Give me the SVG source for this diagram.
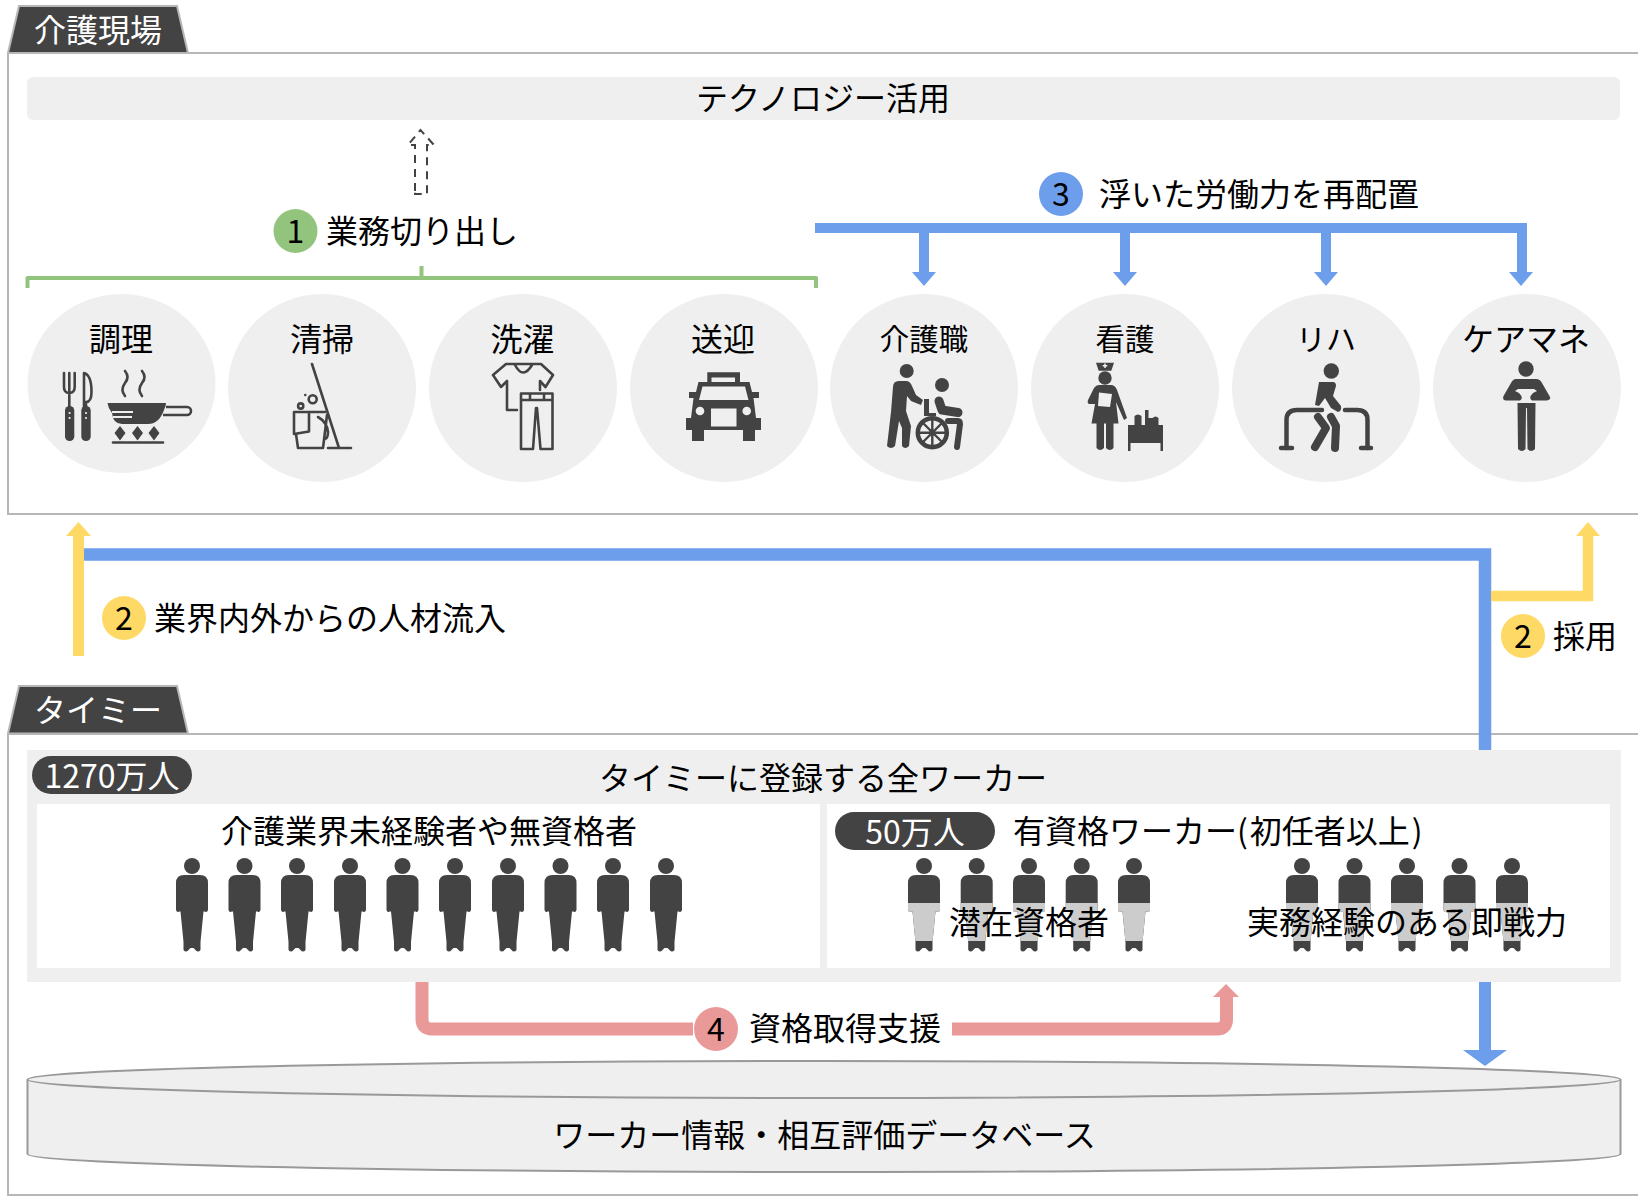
<svg xmlns="http://www.w3.org/2000/svg" xmlns:xlink="http://www.w3.org/1999/xlink" width="1638" height="1196" viewBox="0 0 1638 1196">
<style>
text{font-family:"Noto Sans CJK JP","Noto Sans",sans-serif;font-size:32px;fill:#000}
.m{text-anchor:middle}
.w{fill:#fff}
.panel{fill:#fff;stroke:#b7b7b7;stroke-width:2}
.tab{fill:#434343;stroke:#b7b7b7;stroke-width:2}
.g{fill:#efefef}
.d{fill:#434343}
.pill{fill:#434343}
.ln{fill:none;stroke:#434343;stroke-width:2.6;stroke-linecap:round;stroke-linejoin:round}
.th{fill:none;stroke:#434343;stroke-width:8;stroke-linecap:round;stroke-linejoin:round}
.tg{fill:none;stroke:#434343;stroke-width:5.5;stroke-linecap:round;stroke-linejoin:round}
.blue{fill:none;stroke:#6d9eeb}
.yel{fill:none;stroke:#ffd966}
.pink{fill:none;stroke:#ea9999;stroke-width:13;stroke-linejoin:round}
</style>
<defs>
<g id="person">
<circle cx="0" cy="8" r="8"/>
<path d="M-16,25 Q-16,17 -8,17 H8 Q16,17 16,25 V52 Q15,55 13,53.500 L11.500,53.500 L8.500,84 V92 Q6,95 3.500,92 L1.500,90 H-1.500 L-3.500,92 Q-6,95 -8.500,92 V84 L-11.500,53.500 H-13 Q-15,55 -16,52 Z"/>
</g>
<clipPath id="mid"><rect x="-20" y="45" width="40" height="38"/></clipPath>
<g id="person2">
<use xlink:href="#person" fill="#434343"/>
<use xlink:href="#person" fill="#cccccc" clip-path="url(#mid)"/>
</g>
</defs>
<rect width="1638" height="1196" fill="#fff"/>

<g id="panel-care">
<rect class="panel" x="8" y="53" width="1640" height="461"/>
<path class="tab" d="M19,6 H177 L188,53 H8 Z"/>
<text class="m w" x="98" y="42">介護現場</text>
</g>
<g id="panel-timee">
<rect class="panel" x="8" y="734" width="1640" height="461"/>
<path class="tab" d="M19,686 H177 L188,733.500 H8 Z"/>
<text class="m w" x="98" y="722">タイミー</text>
</g>
<g id="database">
<path d="M27.500,1079.500 V1154 C27.500,1164 383,1172 824,1172 C1265,1172 1620.500,1164 1620.500,1154 V1079.500" fill="#efefef" stroke="#999" stroke-width="2"/>
<ellipse cx="824" cy="1079.500" rx="796.500" ry="18.500" fill="#efefef" stroke="#999" stroke-width="2"/>
<text class="m" x="824.500" y="1147">ワーカー情報・相互評価データベース</text>
</g>

<g id="connectors">
<path d="M84,554.500 H1485 V752" class="blue" stroke-width="12.500"/>
<path d="M1485,980 V1052" class="blue" stroke-width="12"/>
<path d="M1463,1050 H1507 L1485,1066 Z" fill="#6d9eeb"/>
<path d="M815,228 H1527" class="blue" stroke-width="10"/>
<path d="M924,228 V274M1125,228 V274M1326,228 V274M1522,223 V274" class="blue" stroke-width="10"/>
<path d="M912,272 H936 L924,286 ZM1113,272 H1137 L1125,286 ZM1314,272 H1338 L1326,286 ZM1509,272 H1533 L1521,286 Z" fill="#6d9eeb"/>
<path d="M78.500,656 V534" class="yel" stroke-width="11"/>
<path d="M66,536 H91 L78.500,522 Z" fill="#ffd966"/>
<path d="M1491,596 H1588 V534" class="yel" stroke-width="10.500"/>
<path d="M1576,536 H1600 L1588,522 Z" fill="#ffd966"/>
<path d="M422,982 V1019 Q422,1029 432,1029 H693" class="pink"/>
<path d="M952,1029 H1217 Q1226.500,1029 1226.500,1019 V995" class="pink"/>
<path d="M1213,997 H1239 L1226,984 Z" fill="#ea9999"/>
<path d="M27.500,288 V278 H816 V288 M421.500,278 V266" fill="none" stroke="#93c47d" stroke-width="4" stroke-linejoin="round"/>
<path d="M415,191 V145 H408 L420.500,130 L434,145 H427 V194 H415 Z" fill="none" stroke="#434343" stroke-width="2" stroke-dasharray="8 6"/>
</g>

<g id="tech">
<rect class="g" x="27" y="77" width="1593" height="43" rx="6"/>
<text class="m" x="823" y="110">テクノロジー活用</text>
</g>
<g id="label-1">
<circle cx="295.500" cy="231" r="22" fill="#93c47d"/>
<text class="m" x="295.500" y="243">1</text>
<text x="326" y="243">業務切り出し</text>
</g>
<g id="label-3">
<circle cx="1061" cy="194" r="22" fill="#6d9eeb"/>
<text class="m" x="1061" y="206">3</text>
<text x="1099" y="206">浮いた労働力を再配置</text>
</g>
<g id="label-2a">
<circle cx="124" cy="618" r="22" fill="#ffd966"/>
<text class="m" x="124" y="630">2</text>
<text x="154" y="630">業界内外からの人材流入</text>
</g>
<g id="label-2b">
<circle cx="1523" cy="636" r="22" fill="#ffd966"/>
<text class="m" x="1523" y="648">2</text>
<text x="1553" y="648">採用</text>
</g>

<g id="n-cook">
<ellipse class="g" cx="121.500" cy="383.500" rx="94" ry="89.500"/>
<text class="m" x="121" y="351">調理</text>
<path class="ln" d="M64,373 V387 Q64,393 69.300,393 Q74.700,393 74.700,387 V373 M69.300,373 V408"/>
<rect class="d" x="65" y="406" width="9.300" height="35" rx="4.600"/>
<path class="ln" d="M84,373 Q91.500,375 91.500,392 Q91.500,402 86,402 V408 M84,373 V408"/>
<rect class="d" x="81.300" y="406" width="9.400" height="35" rx="4.600"/>
<circle cx="69.600" cy="413" r="1.100" fill="#efefef"/><circle cx="69.600" cy="418" r="1.100" fill="#efefef"/>
<circle cx="86" cy="413" r="1.100" fill="#efefef"/><circle cx="86" cy="418" r="1.100" fill="#efefef"/>
<path class="ln" d="M125,371 Q130,377 125,383 Q120,390 125,396 M142,371 Q147,377 142,383 Q137,390 142,396"/>
<path class="d" d="M107.500,403 H166 Q166,406 164,410 Q159,424 148,424 H122 Q113,424 112,413 Q108,408 107.500,403 Z"/>
<path d="M112,412 H133 M113,417 H132" stroke="#efefef" stroke-width="1.800" fill="none"/>
<path d="M166,407 H187 A4,4 0 0 1 187,415 H163" fill="none" stroke="#434343" stroke-width="2.600"/>
<path class="d" d="M120,426 L125.500,433 L120,440.500 L114.500,433 Z M137.500,426 L143,433 L137.500,440.500 L132,433 Z M154,426 L159.500,433 L154,440.500 L148.500,433 Z"/>
<path class="ln" d="M113,442.500 H163"/>
</g>
<g id="n-clean">
<ellipse class="g" cx="322" cy="388" rx="94" ry="94"/>
<text class="m" x="322" y="351">清掃</text>
<path class="ln" d="M312,364 L339,448 M328,448 H351"/>
<circle class="ln" cx="312.700" cy="399.300" r="4"/>
<circle class="ln" cx="300.700" cy="406" r="2.600"/>
<circle cx="305.300" cy="395" r="1.300" fill="#434343"/>
<path class="ln" d="M294,412 H325 M294,412 V434 L309,431.500 V412 M296,434 L298,448 H323 L327,415 M318,417 Q327,422 328,432 Q328,438 325,439"/>
</g>
<g id="n-wash">
<ellipse class="g" cx="523" cy="388" rx="94" ry="94"/>
<text class="m" x="522.500" y="351">洗濯</text>
<path class="ln" d="M540,390 V381 L545.500,387 L553,375 L541,364 H506 L493,375 L501,387 L507,381 V410 H517 M515,365 Q523,380 532,365"/>
<path class="ln" d="M521,393.500 H552.500 V449 H540.500 L537,408 H536 L533,449 H521 Z M521,400 H552.500 M530,394 V400 M544,394 V400"/>
</g>
<g id="n-ride">
<ellipse class="g" cx="724" cy="388" rx="94" ry="94"/>
<text class="m" x="723" y="351">送迎</text>
<path class="d" d="M707.300,372.300 H740 V382 H749.500 L752,392 H759 V398 H753.500 L756,418 H761 V430 H755 V441 H743 V430 H704 V441 H692 V430 H686 V418 H691 L693.500,398 H689 V392 H696 L698.500,382 H707.300 Z"/>
<path class="g" d="M711.500,377.500 V382 H735 V377.500 Z M702.500,386.500 H745 L748.500,400 H699 Z M711,408.500 H736.500 V426.500 H711 Z"/>
<circle class="g" cx="700" cy="411" r="4.300"/><circle class="g" cx="746.700" cy="411" r="4.300"/>
</g>
<g id="n-carer">
<ellipse class="g" cx="924" cy="388" rx="94" ry="94"/>
<text class="m" x="924" y="350" style="font-size:29.500px">介護職</text>
<circle class="d" cx="906.700" cy="371" r="7"/>
<circle class="d" cx="942" cy="385" r="7"/>
<path class="d" d="M893,387 Q893,381 899,381 H906 Q910,381 912,386 L916,395 L923,400 L921,405 L911,401 L907,396 L906,411 L911,426 L909,446 Q905,450 902,446 L902,428 L899,421 L895,446 Q891,450 887,446 L891,412 Z"/>
<path class="d" d="M924,399 H929 V413 H936 V416 H924 Z"/>
<path class="th" d="M939,401 L942,410 L958,412.500" style="stroke-width:9"/>
<circle cx="932.300" cy="432.700" r="14.500" fill="none" stroke="#434343" stroke-width="4.500"/>
<path d="M932.300,418 V447.500 M917.500,432.700 H947 M922,422 L943,443 M943,422 L922,443" stroke="#434343" stroke-width="2.400"/>
<circle class="d" cx="932.300" cy="432.700" r="3"/>
<path class="tg" d="M948,421 H958 Q960,421 960,424 L957,447" style="stroke-width:6"/>
</g>
<g id="n-nurse">
<ellipse class="g" cx="1125" cy="388" rx="94" ry="94"/>
<text class="m" x="1125" y="350" style="font-size:29.500px">看護</text>
<path class="d" d="M1096,362.700 H1114 L1111.300,370.700 H1098.700 Z"/>
<path d="M1105,363.500 V368 M1102.700,365.700 H1107.300" stroke="#efefef" stroke-width="1.500"/>
<circle class="d" cx="1105" cy="378" r="6.700"/>
<path class="d" d="M1099,385 H1111 Q1115,385 1117,390 L1127,418 L1124,420 L1116,402 L1118.500,423.500 H1091.500 L1095,404 H1089 Q1087,403 1088,400 L1094,388 Q1096,385 1099,385 Z"/>
<path d="M1099,392.500 L1112,394 L1110,407 L1098,406 Z" fill="#efefef"/>
<path class="d" d="M1096.500,423 H1104 V448 Q1100,452 1096.500,448 Z M1106,423 H1113.500 V448 Q1110,452 1106,448 Z"/>
<path class="d" d="M1128,425 H1134.500 V416 Q1138,413 1141.500,416 V425 H1145 V410 H1148.500 V418 H1152.500 Q1155.500,415 1158.500,418 V425 H1163 V451 H1160.500 V443 H1130.500 V451 H1128 Z"/>
</g>
<g id="n-rehab">
<ellipse class="g" cx="1326" cy="388" rx="94" ry="94"/>
<text class="m" x="1326" y="350" style="font-size:30px">リハ</text>
<circle class="d" cx="1331.300" cy="371" r="7.700"/>
<path class="d" d="M1319,382 H1333 Q1336,382 1336,386 L1333,396 L1341,406 Q1342,411 1338,412 L1331,408 L1325,398 L1319,406 L1315,405 Z"/>
<path class="th" d="M1318,417 L1326,428 L1315,447 M1331,417 L1336,426 L1335,448" style="stroke-width:8"/>
<path class="tg" d="M1286.500,448 V420 Q1286.500,410 1297,410 H1322 M1345,410 H1357 Q1367.500,410 1367.500,420 V448" style="stroke-width:4.500"/>
<path class="tg" d="M1281,448 H1292 M1361,448 H1371" style="stroke-width:4.500"/>
</g>
<g id="n-manager">
<ellipse class="g" cx="1527" cy="388" rx="94" ry="94"/>
<text class="m" x="1526" y="351">ケアマネ</text>
<circle class="d" cx="1526" cy="369" r="7.700"/>
<path class="d" d="M1516,379 H1536 Q1540,379 1542,383 L1550,397 Q1551,400 1547,400.500 H1532 Q1528,398 1533,393 L1537,391 L1534,389 H1518 L1515,391 L1519,393 Q1524,398 1520,400.500 H1506 Q1502,400 1503.500,396 L1511,383 Q1513,379 1516,379 Z"/>
<path class="d" d="M1517.500,403 H1535.500 L1535,449 Q1531,453 1527.500,449 L1527,408 H1526 L1525.500,449 Q1522,453 1518,449 Z"/>
</g>

<g id="box-all">
<rect class="g" x="27" y="750" width="1594" height="232"/>
<rect class="pill" x="32" y="756" width="160" height="38" rx="19"/>
<text class="m w" x="112" y="788">1270万人</text>
<text class="m" x="823" y="790">タイミーに登録する全ワーカー</text>
</g>
<g id="box-novice">
<rect x="37" y="804" width="783" height="164" fill="#fff"/>
<text class="m" x="429" y="843">介護業界未経験者や無資格者</text>
<g fill="#434343">
<use xlink:href="#person" x="192" y="858"/><use xlink:href="#person" x="244.500" y="858"/><use xlink:href="#person" x="297" y="858"/><use xlink:href="#person" x="350" y="858"/><use xlink:href="#person" x="402.500" y="858"/><use xlink:href="#person" x="455" y="858"/><use xlink:href="#person" x="508" y="858"/><use xlink:href="#person" x="560.500" y="858"/><use xlink:href="#person" x="613" y="858"/><use xlink:href="#person" x="666" y="858"/>
</g>
</g>
<g id="box-qualified">
<rect x="827" y="804" width="783" height="164" fill="#fff"/>
<rect class="pill" x="835" y="812" width="160" height="38" rx="19"/>
<text class="m w" x="915" y="844">50万人</text>
<text x="1013" y="843">有資格ワーカー(<tspan dx="2">初任者以上</tspan><tspan dx="2">)</tspan></text>
<use xlink:href="#person2" x="924" y="858"/><use xlink:href="#person2" x="976.700" y="858"/><use xlink:href="#person2" x="1029" y="858"/><use xlink:href="#person2" x="1081.700" y="858"/><use xlink:href="#person2" x="1134" y="858"/>
<use xlink:href="#person2" x="1302" y="858"/><use xlink:href="#person2" x="1354.500" y="858"/><use xlink:href="#person2" x="1407" y="858"/><use xlink:href="#person2" x="1459.500" y="858"/><use xlink:href="#person2" x="1512" y="858"/>
<text class="m" x="1029" y="934">潜在資格者</text>
<text class="m" x="1407" y="934">実務経験のある即戦力</text>
</g>
<g id="label-4">
<circle cx="716" cy="1029" r="22" fill="#ea9999"/>
<text class="m" x="716" y="1041">4</text>
<text x="749" y="1040">資格取得支援</text>
</g>
</svg>
